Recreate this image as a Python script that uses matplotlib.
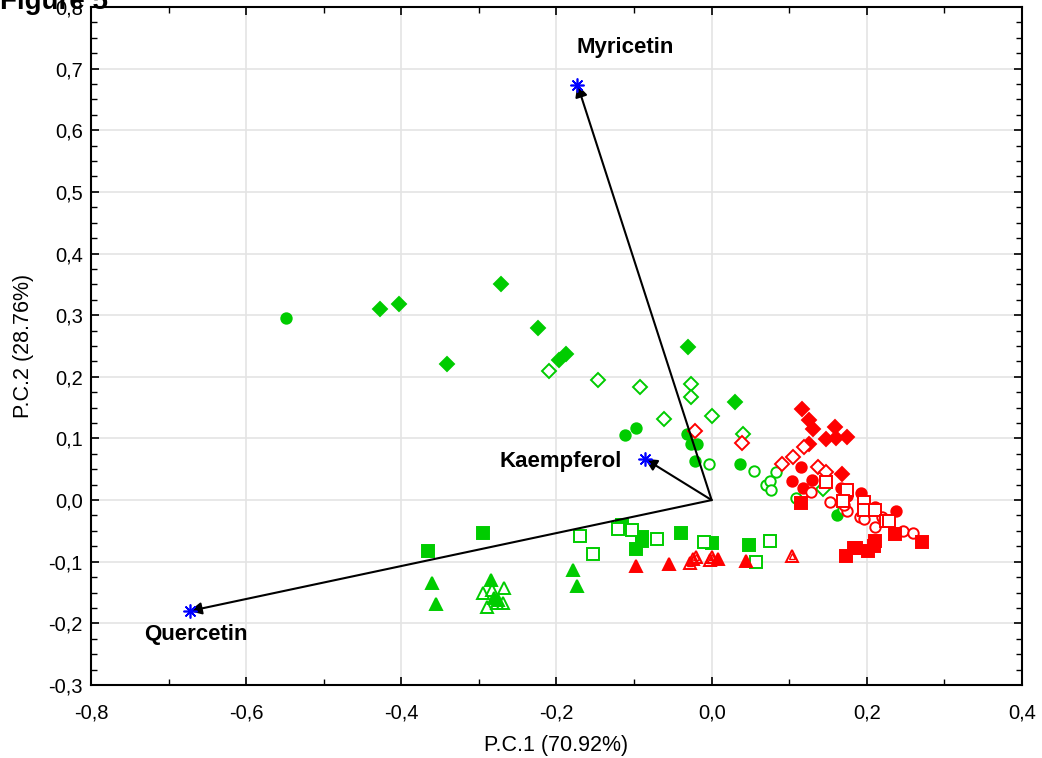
import numpy as np
import matplotlib.pyplot as plt
from matplotlib.ticker import MultipleLocator, FuncFormatter

plt.rcParams['font.family'] = ['Liberation Sans', 'DejaVu Sans']
plt.rcParams['axes.unicode_minus'] = False

GREEN = '#00cc00'
RED = '#ff0000'

# loadings (arrows)
load_names = ['Myricetin', 'Kaempferol', 'Quercetin']
load_x = [-0.173, -0.086, -0.673]
load_y = [0.674, 0.067, -0.180]

# scores, grouped by colour / marker
g_dia_fill_x = [-0.427, -0.403, -0.271, -0.341, -0.224, -0.197, -0.188, -0.030, 0.030]
g_dia_fill_y = [0.310, 0.318, 0.351, 0.221, 0.279, 0.227, 0.237, 0.248, 0.159]
g_dia_open_x = [-0.209, -0.146, -0.092, -0.027, -0.027, -0.061, 0.001, 0.041, 0.144]
g_dia_open_y = [0.209, 0.195, 0.184, 0.188, 0.167, 0.131, 0.136, 0.107, 0.018]
g_cir_fill_x = [-0.548, -0.112, -0.097, -0.032, -0.026, -0.019, -0.021, 0.037, 0.161]
g_cir_fill_y = [0.295, 0.106, 0.117, 0.107, 0.091, 0.091, 0.063, 0.058, -0.024]
g_cir_open_x = [-0.004, 0.055, 0.083, 0.070, 0.075, 0.076, 0.109, 0.169]
g_cir_open_y = [0.058, 0.047, 0.046, 0.024, 0.031, 0.016, 0.003, -0.015]
g_sq_fill_x = [-0.366, -0.295, -0.115, -0.090, -0.090, -0.097, -0.039, 0.001, 0.048]
g_sq_fill_y = [-0.083, -0.053, -0.041, -0.060, -0.066, -0.080, -0.054, -0.070, -0.073]
g_sq_open_x = [-0.170, -0.153, -0.121, -0.103, -0.070, -0.010, 0.057, 0.075]
g_sq_open_y = [-0.058, -0.088, -0.047, -0.049, -0.063, -0.068, -0.101, -0.067]
g_tri_fill_x = [-0.361, -0.355, -0.285, -0.280, -0.276, -0.179, -0.174]
g_tri_fill_y = [-0.134, -0.169, -0.129, -0.159, -0.162, -0.114, -0.140]
g_tri_open_x = [-0.295, -0.283, -0.267, -0.289, -0.269, -0.277]
g_tri_open_y = [-0.151, -0.146, -0.143, -0.174, -0.167, -0.167]

r_dia_fill_x = [0.117, 0.125, 0.131, 0.159, 0.147, 0.160, 0.174, 0.125, 0.168]
r_dia_fill_y = [0.148, 0.130, 0.115, 0.119, 0.099, 0.101, 0.102, 0.091, 0.042]
r_dia_open_x = [-0.021, 0.039, 0.091, 0.105, 0.119, 0.137, 0.148]
r_dia_open_y = [0.112, 0.093, 0.058, 0.070, 0.086, 0.053, 0.046]
r_cir_fill_x = [0.115, 0.103, 0.129, 0.118, 0.167, 0.174, 0.192, 0.211, 0.237]
r_cir_fill_y = [0.054, 0.031, 0.032, 0.019, 0.019, 0.007, 0.011, -0.011, -0.018]
r_cir_open_x = [0.128, 0.152, 0.174, 0.171, 0.191, 0.197, 0.210, 0.219, 0.246, 0.259]
r_cir_open_y = [0.013, -0.003, -0.018, -0.008, -0.028, -0.031, -0.044, -0.028, -0.050, -0.054]
r_sq_fill_x = [0.115, 0.236, 0.271, 0.211, 0.209, 0.201, 0.186, 0.173, 0.183]
r_sq_fill_y = [-0.005, -0.055, -0.068, -0.067, -0.074, -0.083, -0.078, -0.091, -0.078]
r_sq_open_x = [0.148, 0.174, 0.169, 0.196, 0.196, 0.210, 0.225, 0.228]
r_sq_open_y = [0.029, 0.016, -0.002, -0.003, -0.016, -0.016, -0.034, -0.034]
r_tri_fill_x = [-0.097, -0.055, 0.008, 0.044]
r_tri_fill_y = [-0.107, -0.103, -0.096, -0.099]
r_tri_open_x = [-0.024, -0.020, 0.001, 0.103, -0.028, -0.002]
r_tri_open_y = [-0.096, -0.093, -0.093, -0.090, -0.102, -0.097]

fig = plt.figure(figsize=(10.42, 7.58), dpi=100)
ax = fig.add_axes([0.0873, 0.0963, 0.8935, 0.8945])

groups = [
    (g_dia_fill_x, g_dia_fill_y, 'D', GREEN, True),
    (g_dia_open_x, g_dia_open_y, 'D', GREEN, False),
    (g_cir_fill_x, g_cir_fill_y, 'o', GREEN, True),
    (g_cir_open_x, g_cir_open_y, 'o', GREEN, False),
    (g_sq_fill_x, g_sq_fill_y, 's', GREEN, True),
    (g_sq_open_x, g_sq_open_y, 's', GREEN, False),
    (g_tri_fill_x, g_tri_fill_y, '^', GREEN, True),
    (g_tri_open_x, g_tri_open_y, '^', GREEN, False),
    (r_dia_fill_x, r_dia_fill_y, 'D', RED, True),
    (r_dia_open_x, r_dia_open_y, 'D', RED, False),
    (r_cir_fill_x, r_cir_fill_y, 'o', RED, True),
    (r_cir_open_x, r_cir_open_y, 'o', RED, False),
    (r_sq_fill_x, r_sq_fill_y, 's', RED, True),
    (r_sq_open_x, r_sq_open_y, 's', RED, False),
    (r_tri_fill_x, r_tri_fill_y, '^', RED, True),
    (r_tri_open_x, r_tri_open_y, '^', RED, False),
]
sizes = {'D': 7, 'o': 7.5, 's': 8.5, '^': 8.5}
for gx, gy, m, c, filled in groups:
    ax.plot(gx, gy, ls='none', marker=m, ms=sizes[m], mec=c, mew=1.4,
            mfc=c if filled else 'white' if m != '^' else 'none', zorder=3)
# inner outline of the red open triangles
ax.plot(r_tri_open_x, r_tri_open_y, ls='none', marker='^', ms=4.5, mec=RED,
        mew=1.0, mfc='none', zorder=3)

# loading arrows
for nx, ny in zip(load_x, load_y):
    ax.annotate('', xy=(nx, ny), xytext=(0, 0),
                arrowprops=dict(arrowstyle='-|>', color='black', lw=1.5,
                                mutation_scale=18, shrinkA=0, shrinkB=0),
                zorder=4)
ax.plot(load_x, load_y, ls='none', marker=(8, 2, 0), ms=10, mec='blue',
        mew=1.2, zorder=5)

ax.text(-0.111, 0.734, load_names[0], fontsize=16, fontweight='bold', ha='center', va='center')
ax.text(-0.116, 0.062, load_names[1], fontsize=16, fontweight='bold', ha='right', va='center')
ax.text(-0.665, -0.218, load_names[2], fontsize=16, fontweight='bold', ha='center', va='center')

ax.set_xlim(-0.8, 0.4)
ax.set_ylim(-0.3, 0.8)
ax.xaxis.set_major_locator(MultipleLocator(0.2))
ax.xaxis.set_minor_locator(MultipleLocator(0.1))
ax.yaxis.set_major_locator(MultipleLocator(0.1))
ax.yaxis.set_minor_locator(MultipleLocator(0.025))
fmt = FuncFormatter(lambda v, p: ('%.1f' % v).replace('.', ',').replace('-0,0', '0,0'))
ax.xaxis.set_major_formatter(fmt)
ax.yaxis.set_major_formatter(fmt)
ax.tick_params(which='both', direction='in', top=True, right=True, labelsize=14.5)
ax.tick_params(which='major', length=6, width=1.2)
ax.tick_params(which='minor', length=4, width=1.0)
ax.tick_params(axis='x', pad=13)
ax.tick_params(axis='y', pad=6)
ax.grid(True, which='major', color='#e4e4e4', lw=1.2)
ax.set_axisbelow(True)
for s in ax.spines.values():
    s.set_linewidth(1.5)

ax.set_xlabel('P.C.1 (70.92%)', fontsize=15.5, labelpad=9)
ax.set_ylabel('P.C.2 (28.76%)', fontsize=15.5, labelpad=10)

fig.text(0.0, 1 - 9 / 758, 'Figure 5', fontsize=20, fontweight='bold', ha='left', va='baseline')

fig.savefig('out.png', dpi=100)
